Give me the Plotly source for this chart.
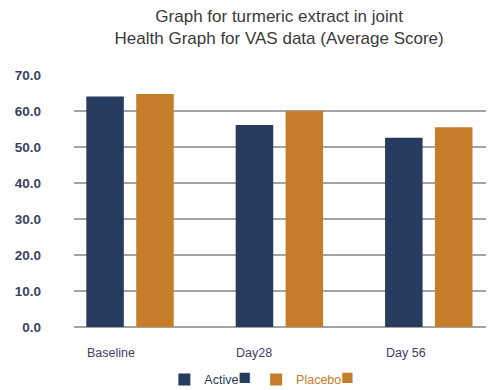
import plotly.graph_objects as go

# Visit labels and average VAS scores per group
categories = ["Baseline", "Day28", "Day 56"]
active_scores = [64.0, 56.1, 52.6]
placebo_scores = [64.7, 60.0, 55.5]
y_ticks = [0, 10, 20, 30, 40, 50, 60, 70]

NAVY = "#263b5e"
ORANGE = "#c67d2a"
TEXT = "#3b4163"
FONT = "Liberation Sans, Arial, sans-serif"

fig = go.Figure()
fig.add_trace(go.Bar(
    x=categories, y=active_scores,
    name=f'<span style="color:{NAVY}">Active</span><span style="color:{NAVY};font-size:21px">■</span>',
    marker=dict(color=NAVY, line=dict(width=0)),
))
fig.add_trace(go.Bar(
    x=categories, y=placebo_scores,
    name=f'<span style="color:{ORANGE}">Placebo</span><span style="color:{ORANGE};font-size:21px">■</span>',
    marker=dict(color=ORANGE, line=dict(width=0)),
))

# Category labels aligned to the left edge of each group's first bar
for cat in categories:
    fig.add_annotation(
        x=cat, y=0, xref="x", yref="y",
        text=cat, showarrow=False,
        xanchor="left", yanchor="middle",
        xshift=-45, yshift=-26,
        font=dict(family=FONT, size=12.5, color=TEXT),
    )

fig.update_layout(
    width=488, height=390,
    margin=dict(l=74, r=2, t=75, b=63, autoexpand=False),
    paper_bgcolor="white", plot_bgcolor="white",
    barmode="group", bargap=0.332, bargroupgap=0.248,
    font=dict(family=FONT, color=TEXT),
    title=dict(
        text="Graph for turmeric extract in joint<br>Health Graph for VAS data (Average Score)",
        x=0.572, xref="container", xanchor="center",
        y=1 - 22 / 390, yanchor="middle",
        font=dict(family=FONT, size=17, color="#3a3a3a"),
    ),
    xaxis=dict(
        type="category", range=[-0.375, 2.383],
        showticklabels=False, showgrid=False, zeroline=False,
        showline=False, ticks="",
    ),
    yaxis=dict(
        range=[0, 70], tickvals=y_ticks, tickformat=".1f",
        showgrid=True, gridcolor="#a3a3a3", gridwidth=1.5,
        zeroline=True, zerolinecolor="#a3a3a3", zerolinewidth=1.5,
        showline=False, ticks="",
        ticklabelstandoff=32,
        tickfont=dict(family=FONT, size=13.5, color=TEXT, weight="bold"),
    ),
    legend=dict(
        orientation="h", x=0.456, xanchor="center",
        y=-0.21, yanchor="middle",
        font=dict(family=FONT, size=12.5),
        itemsizing="constant", traceorder="normal",
    ),
    showlegend=True,
)

fig.write_html("out.html")
